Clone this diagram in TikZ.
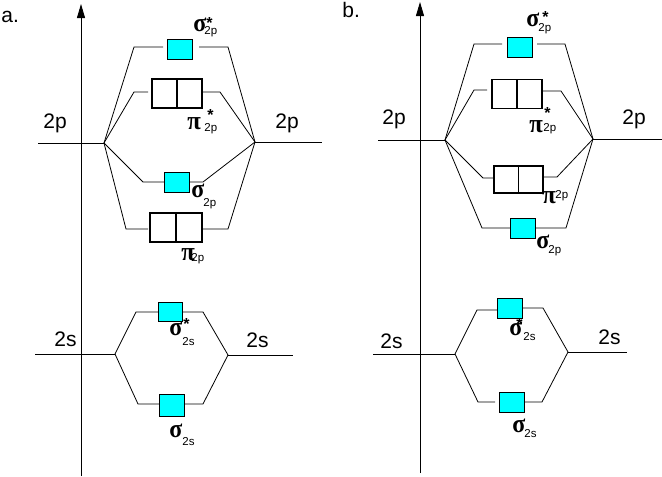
\documentclass[tikz,border=0pt]{standalone}
\usepackage{fontspec}
\setmainfont{Liberation Sans}
\newfontfamily\grkfont{Liberation Serif}
\usetikzlibrary{arrows.meta}
\definecolor{orbcyan}{RGB}{0,255,255}
\newcommand\grkf{\grkfont\bfseries\fontsize{26}{26}\selectfont}
\newcommand\subf{\fontsize{11.5}{11.5}\selectfont}
\newcommand\starf{\bfseries\fontsize{16}{16}\selectfont}
\newcommand\gsig{\scalebox{0.92}[1]{\grkf σ}}
\newcommand\gpi{\scalebox{0.95}[1]{\grkf π}}
% #1 greek, #2 sub dx, #3 sub drop, #4 sub text, #5 star dx, #6 star raise
\newcommand\orbst[6]{\makebox[0pt][l]{#1}\makebox[0pt][l]{\kern#2pt\raisebox{-#3pt}{\subf #4}}\makebox[0pt][l]{\kern#5pt\raisebox{#6pt}{\starf *}}\phantom{#1}}
\newcommand\orbnost[4]{\makebox[0pt][l]{#1}\makebox[0pt][l]{\kern#2pt\raisebox{-#3pt}{\subf #4}}\phantom{#1}}
\begin{document}
\begin{tikzpicture}[x=1pt,y=-1pt,line width=0.8pt,
  cbox/.style={draw, fill=orbcyan, line width=0.9pt, inner sep=0pt, minimum width=25pt, minimum height=20pt},
  dbox/.style={draw, line width=1.8pt, inner sep=0pt, minimum width=50pt, minimum height=29pt,
    path picture={\draw[line width=1.8pt] (path picture bounding box.north) -- (path picture bounding box.south);}},
  lbl/.style={anchor=base west, inner sep=0pt},
  big/.style={lbl, font=\fontsize{21}{21}\selectfont},
  axis/.style={line width=0.9pt, -{Triangle[width=8pt,length=14pt]}}]
\useasboundingbox (0,0) rectangle (662,477);

% ================= panel a =================
\node[big] (alab) at (1,22) {a.};
\coordinate (aaxb) at (81,476); \coordinate (aaxt) at (81,4);
\draw[axis] (aaxb) -- (aaxt);

% 2p levels
\coordinate (aL) at (104,143); \coordinate (aR) at (255,142);
\coordinate (aLe) at (38,143); \coordinate (aRe) at (322,142);
\draw (aLe) -- (aL); \draw (aR) -- (aRe);
\node[big] (a2pl) at (43,128) {2p};
\node[big] (a2pr) at (275,128) {2p};

% sigma*2p
\node[cbox] (a1) at (179.5,49.5) {};
\coordinate (a1l1) at (134,47); \coordinate (a1l2) at (163,47);
\coordinate (a1r1) at (199,47); \coordinate (a1r2) at (228,47);
\draw (aL) -- (a1l1) -- (a1l2); \draw (a1r1) -- (a1r2) -- (aR);
\node[lbl] (a1t) at (193,31) {\orbst{\gsig}{11}{3}{2p}{13}{2.7}};

% pi*2p
\node[dbox] (a2) at (177,93.5) {};
\coordinate (a2l1) at (134,92); \coordinate (a2l2) at (148,92);
\coordinate (a2r1) at (203,92); \coordinate (a2r2) at (220,92);
\draw (aL) -- (a2l1) -- (a2l2); \draw (a2r1) -- (a2r2) -- (aR);
\node[lbl] (a2t) at (187,129) {\orbst{\gpi}{17}{2}{2p}{20}{8.2}};

% sigma2p
\node[cbox] (a3) at (176.5,182) {};
\coordinate (a3l1) at (143,182); \coordinate (a3l2) at (164,182);
\coordinate (a3r1) at (189,182); \coordinate (a3r2) at (203,182);
\draw (aL) -- (a3l1) -- (a3l2); \draw (a3r1) -- (a3r2) -- (aR);
\node[lbl] (a3t) at (191,197) {\orbnost{\gsig}{12}{9}{2p}};

% pi2p
\node[dbox, minimum width=52pt] (a4) at (176,227.5) {};
\coordinate (a4l1) at (126,229); \coordinate (a4l2) at (148,229);
\coordinate (a4r1) at (202,229); \coordinate (a4r2) at (228,229);
\draw (aL) -- (a4l1) -- (a4l2); \draw (a4r1) -- (a4r2) -- (aR);
\node[lbl] (a4t) at (181,260) {\orbnost{\gpi}{10}{1}{2p}};

% 2s levels
\coordinate (aL2) at (115,354); \coordinate (aR2) at (228,355);
\coordinate (aL2e) at (35,354); \coordinate (aR2e) at (293,355);
\draw (aL2e) -- (aL2); \draw (aR2) -- (aR2e);
\node[big] (a2sl) at (54,346) {2s};
\node[big] (a2sr) at (246,347) {2s};

% sigma*2s
\node[cbox, minimum width=24pt, minimum height=19pt] (a5) at (170,311.5) {};
\coordinate (a5l1) at (136,312); \coordinate (a5l2) at (158,312);
\coordinate (a5r1) at (182,312); \coordinate (a5r2) at (203,312);
\draw (aL2) -- (a5l1) -- (a5l2); \draw (a5r1) -- (a5r2) -- (aR2);
\node[lbl] (a5t) at (169,335) {\orbst{\gsig}{13}{10}{2s}{14}{5.7}};

% sigma2s
\node[cbox, minimum height=22pt] (a6) at (171.5,405) {};
\coordinate (a6l1) at (138,404); \coordinate (a6l2) at (159,404);
\coordinate (a6r1) at (184,404); \coordinate (a6r2) at (203,404);
\draw (aL2) -- (a6l1) -- (a6l2); \draw (a6r1) -- (a6r2) -- (aR2);
\node[lbl] (a6t) at (169,437) {\orbnost{\gsig}{13}{8}{2s}};

% ================= panel b =================
\node[big] (blab) at (342,17) {b.};
\coordinate (baxb) at (420,473); \coordinate (baxt) at (420,2);
\draw[axis] (baxb) -- (baxt);

\coordinate (bL) at (445,140); \coordinate (bR) at (593,139);
\coordinate (bLe) at (378,140); \coordinate (bRe) at (662,139);
\draw (bLe) -- (bL); \draw (bR) -- (bRe);
\node[big] (b2pl) at (382,124) {2p};
\node[big] (b2pr) at (622,124) {2p};

% sigma*2p
\node[cbox] (b1) at (519.5,47) {};
\coordinate (b1l1) at (474,44); \coordinate (b1l2) at (502,44);
\coordinate (b1r1) at (537,44); \coordinate (b1r2) at (565,44);
\draw (bL) -- (b1l1) -- (b1l2); \draw (b1r1) -- (b1r2) -- (bR);
\node[lbl] (b1t) at (526,26) {\orbst{\gsig}{12}{5}{2p}{16}{3.2}};

% pi*2p
\node[dbox] (b2) at (517,94) {};
\coordinate (b2l1) at (474,90); \coordinate (b2l2) at (487,90);
\coordinate (b2r1) at (543,91); \coordinate (b2r2) at (561,91);
\draw (bL) -- (b2l1) -- (b2l2); \draw (b2r1) -- (b2r2) -- (bR);
\node[lbl] (b2t) at (529,132) {\orbst{\gpi}{14}{-1}{2p}{15}{13.7}};

% pi2p
\node[dbox, minimum width=49pt, minimum height=27pt] (b3) at (518.5,179.5) {};
\coordinate (b3l1) at (483,178); \coordinate (b3l2) at (493,178);
\coordinate (b3r1) at (543,177); \coordinate (b3r2) at (557,177);
\draw (bL) -- (b3l1) -- (b3l2); \draw (b3r1) -- (b3r2) -- (bR);
\node[lbl] (b3t) at (542,203) {\orbnost{\gpi}{13}{-5}{2p}};

% sigma2p
\node[cbox] (b4) at (523,228) {};
\coordinate (b4l1) at (482,228); \coordinate (b4l2) at (510,228);
\coordinate (b4r1) at (535,228); \coordinate (b4r2) at (566,228);
\draw (bL) -- (b4l1) -- (b4l2); \draw (b4r1) -- (b4r2) -- (bR);
\node[lbl] (b4t) at (536,248) {\orbnost{\gsig}{12}{5}{2p}};

% 2s levels
\coordinate (bL2) at (455,354); \coordinate (bR2) at (568,352);
\coordinate (bL2e) at (373,354); \coordinate (bR2e) at (627,352);
\draw (bL2e) -- (bL2); \draw (bR2) -- (bR2e);
\node[big] (b2sl) at (380,348) {2s};
\node[big] (b2sr) at (598,344) {2s};

% sigma*2s
\node[cbox] (b5) at (509.5,308) {};
\coordinate (b5l1) at (477,310); \coordinate (b5l2) at (497,310);
\coordinate (b5r1) at (522,308); \coordinate (b5r2) at (543,308);
\draw (bL2) -- (b5l1) -- (b5l2); \draw (b5r1) -- (b5r2) -- (bR2);
\node[lbl] (b5t) at (509,335) {\orbst{\gsig}{14}{5}{2s}{7}{5.7}};

% sigma2s
\node[cbox] (b6) at (511.5,402) {};
\coordinate (b6l1) at (478,402); \coordinate (b6l2) at (495,402);
\coordinate (b6r1) at (524,402); \coordinate (b6r2) at (542,402);
\draw (bL2) -- (b6l1) -- (b6l2); \draw (b6r1) -- (b6r2) -- (bR2);
\node[lbl] (b6t) at (512,432) {\orbnost{\gsig}{12}{5}{2s}};
\end{tikzpicture}
\end{document}
